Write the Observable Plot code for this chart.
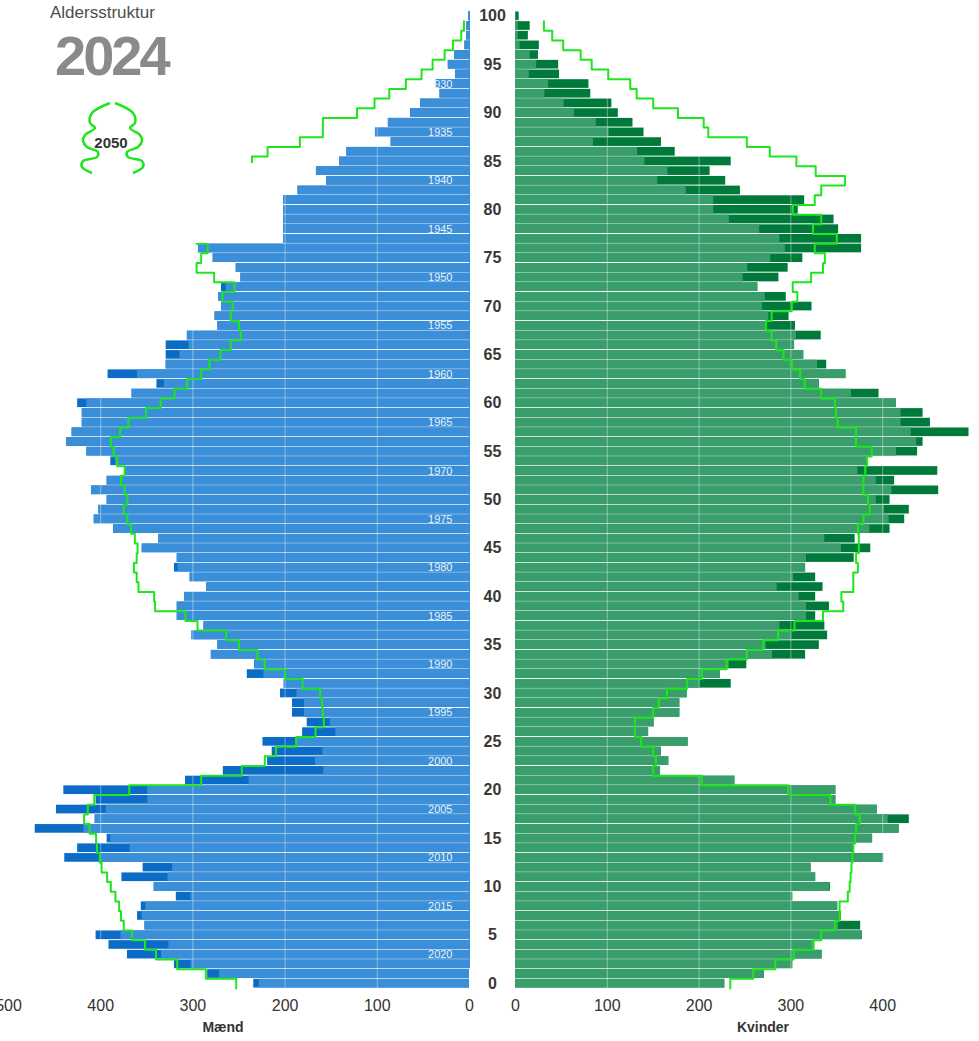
<!DOCTYPE html>
<html>
<head>
<meta charset="utf-8">
<script src="https://cdn.jsdelivr.net/npm/d3@7"></script>
<script src="https://cdn.jsdelivr.net/npm/@observablehq/plot@0.6"></script>
<style>
html, body { margin: 0; padding: 0; background: #fff; overflow: hidden; }
#wrap { position: relative; width: 979px; height: 1041px; font-family: "Liberation Sans", Arial, sans-serif; }
#left { position: absolute; left: 0; top: 0; }
#right { position: absolute; left: 515px; top: 0; }
#mask { position: absolute; left: 0; top: 163px; width: 283px; height: 80px; background: #fff; }
#title { position: absolute; left: 50px; top: 4px; font-size: 17px; line-height: 17px; color: #4d4d4d; }
#year { position: absolute; left: 55px; top: 28px; font-size: 56px; line-height: 56px; font-weight: bold; color: #8a8a8a; letter-spacing: -3px; }
#legend { position: absolute; left: 0; top: 0; }
</style>
</head>
<body>
<div id="wrap">
  <div id="left"></div>
  <div id="right"></div>
  <div id="mask"></div>
  <div id="title">Aldersstruktur</div>
  <div id="year">2024</div>
  <svg id="legend" width="180" height="190"></svg>
</div>
<script>
// ---- data (index = age) ----
const ages = d3.range(0, 101);
const men = [234,284,320,371,391,405,352,360,356,318,342,377,354,439,425,393,471,406,448,405,
  440,308,267,219,214,224,181,176,192,192,205,201,241,233,280,273,301,288,317,317,
  309,285,303,320,317,355,337,386,407,402,393,410,393,373,389,415,437,431,420,420,
  425,366,339,392,329,329,329,306,273,276,269,272,269,248,253,278,294,288,266,233,
  216,216,186,155,166,141,133,85,102,88,64,53,32,36,15,23,16,5,3,3,1];
const women = [228,271,302,334,326,378,376,355,351,302,343,327,322,401,368,389,418,429,394,349,
  349,239,158,167,159,188,145,151,179,179,187,235,223,252,316,331,340,337,327,342,
  327,335,327,316,369,387,370,408,424,429,408,461,413,460,384,438,444,494,452,444,
  415,396,331,360,339,314,304,333,305,298,323,295,264,287,297,313,377,377,352,347,
  308,315,245,229,212,235,174,159,140,128,112,105,82,80,48,47,25,26,14,16,4];
// 2050 projection (ages 0..99)
const men2050 = [253,286,317,340,352,366,375,378,380,384,389,393,399,401,404,405,412,418,414,407,
  369,291,247,222,210,188,167,158,159,160,162,181,200,222,230,250,264,295,308,341,
  342,359,361,364,361,360,363,367,371,375,371,374,378,374,382,386,389,379,370,351,
  335,320,306,291,282,270,259,248,250,259,257,268,255,277,296,291,284,296,280,285,
  255,270,270,285,255,236,219,184,159,159,122,103,87,69,52,40,27,18,9,6];
const women2050 = [234,259,283,303,324,333,348,353,353,362,364,365,366,367,368,370,371,375,370,343,
  297,203,150,153,150,137,130,130,150,156,165,187,203,230,252,270,286,304,335,357,
  355,368,368,373,371,374,374,373,379,386,384,379,379,381,383,388,371,371,351,349,
  348,333,315,310,301,292,284,279,273,279,301,307,302,322,335,337,326,350,324,333,
  302,326,333,359,327,306,277,252,210,205,177,150,132,125,101,83,71,52,40,31];
const ageTicks = d3.range(0, 101, 5);
const birthYears = d3.range(1925, 2021, 5);
const ticksLeft = [0, 100, 200, 300, 400, 500];
const ticksRight = [0, 100, 200, 300, 400];
const gridValues = [100, 200, 300, 400];

const rows = ages.map(a => ({age: a, men: men[a], women: women[a],
  menShared: Math.min(men[a], women[a]), womenShared: Math.min(men[a], women[a])}));
const proj = d3.range(0, 100).map(a => ({age: a, men: men2050[a], women: women2050[a]}));

// vertical step curve: each value spans its whole age band
function stepY(context) {
  let pts;
  return {
    areaStart() {}, areaEnd() {},
    lineStart() { pts = []; },
    point(x, y) { pts.push([+x, +y]); },
    lineEnd() {
      const n = pts.length; if (!n) return;
      const h = n > 1 ? pts[1][1] - pts[0][1] : 0;
      context.moveTo(pts[0][0], pts[0][1] - h / 2);
      for (let i = 1; i < n; i++) {
        const ym = (pts[i - 1][1] + pts[i][1]) / 2;
        context.lineTo(pts[i - 1][0], ym);
        context.lineTo(pts[i][0], ym);
      }
      context.lineTo(pts[n - 1][0], pts[n - 1][1] + h / 2);
    }
  };
}

const H = 1041, MT = 11, MB = 53;
const yScale = {type: "band", domain: d3.range(100, -1, -1), padding: 0, axis: null};
const font = "Liberation Sans, Arial, sans-serif";
const GREEN = "#1ee61e";

const left = Plot.plot({
  width: 515, height: H, marginLeft: 8, marginRight: 46, marginTop: MT, marginBottom: MB,
  style: {fontFamily: font, fontSize: "16px", color: "#333", background: "transparent"},
  x: {domain: [0, 500], reverse: true, ticks: ticksLeft, tickSize: 0, tickPadding: 11, label: null, tickFormat: d => String(d)},
  y: yScale,
  marks: [
    Plot.barX(rows, {y: "age", x: "men", fill: "#0a6cc6", insetTop: 0.5, insetBottom: 0.5}),
    Plot.barX(rows, {y: "age", x: "menShared", fill: "#3a8fd8", insetTop: 0.5, insetBottom: 0.5}),
    Plot.ruleX(gridValues, {stroke: "white", strokeOpacity: 0.4}),
    Plot.ruleX([0], {y1: 100, stroke: "#3a8fd8", strokeWidth: 1, dy: -10}),
    Plot.text(birthYears, {y: d => 2023 - d, text: d => String(d), frameAnchor: "right", dx: -17,
      textAnchor: "end", fill: "white", fillOpacity: 0.9, fontSize: 11}),
    Plot.line(proj, {x: "men", y: "age", curve: stepY, stroke: GREEN, strokeWidth: 2}),
    Plot.text(ageTicks, {y: d => d, text: d => String(d), frameAnchor: "right", dx: 23,
      textAnchor: "middle", fontSize: 16, fontWeight: "bold", fill: "#3a3835"}),
    Plot.text(["Mænd"], {frameAnchor: "bottom", dx: -16, dy: 43, fontSize: 14, fontWeight: "bold", fill: "#333"})
  ]
});
document.getElementById("left").appendChild(left);

const right = Plot.plot({
  width: 464, height: H, marginLeft: 0, marginRight: 5, marginTop: MT, marginBottom: MB,
  style: {fontFamily: font, fontSize: "16px", color: "#333", background: "transparent", overflow: "visible"},
  x: {domain: [0, 500], ticks: ticksRight, tickSize: 0, tickPadding: 11, label: null, tickFormat: d => String(d)},
  y: yScale,
  marks: [
    Plot.barX(rows, {y: "age", x: "women", fill: "#007a3a", insetTop: 0.5, insetBottom: 0.5}),
    Plot.barX(rows, {y: "age", x: "womenShared", fill: "#3a9e6c", insetTop: 0.5, insetBottom: 0.5}),
    Plot.ruleX(gridValues, {stroke: "white", strokeOpacity: 0.4}),
    Plot.line(proj, {x: "women", y: "age", curve: stepY, stroke: GREEN, strokeWidth: 2}),
    Plot.text(["Kvinder"], {frameAnchor: "bottom", dx: 18, dy: 43, fontSize: 14, fontWeight: "bold", fill: "#333"})
  ]
});
document.getElementById("right").appendChild(right);

// legend glyph
const leftPts = [[110,103],[92,113],[90,123],[95,128],[85,135],[83,141],[87,147],[98,152],[97,157],[83,161],[82,167],[92,173]];
const rightPts = leftPts.map(([x, y]) => [225 - x, y]);
const lg = d3.select("#legend");
const ln = d3.line().curve(d3.curveCatmullRom);
lg.append("path").attr("d", ln(leftPts)).attr("fill", "none").attr("stroke", GREEN).attr("stroke-width", 2.5);
lg.append("path").attr("d", ln(rightPts)).attr("fill", "none").attr("stroke", GREEN).attr("stroke-width", 2.5);
lg.append("text").attr("x", 111).attr("y", 148).attr("text-anchor", "middle")
  .attr("font-family", font).attr("font-size", 15).attr("font-weight", "bold").attr("fill", "#333").text("2050");
</script>
</body>
</html>
